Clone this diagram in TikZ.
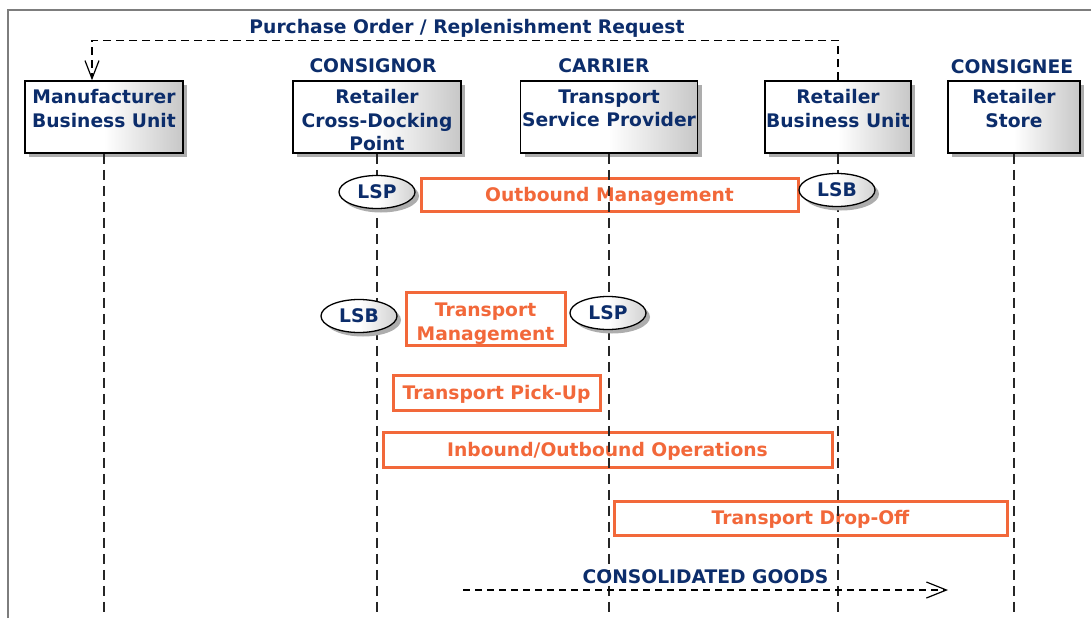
\documentclass[tikz,border=0pt]{standalone}
\usepackage{fontspec}
\setmainfont{DejaVu Sans}
\usetikzlibrary{shapes.geometric,shadows,arrows.meta}
\definecolor{navy}{RGB}{12,45,107}
\definecolor{orng}{RGB}{242,104,58}
\definecolor{framegray}{RGB}{125,125,125}
\begin{document}
\begin{tikzpicture}[x=1pt,y=-1pt,
  lblfont/.style={font=\fontsize{18.7}{23.5}\selectfont\bfseries},
  lbl/.style={lblfont, text=navy, inner sep=0pt},
  shad/.style={drop shadow={shadow xshift=4pt,shadow yshift=-4pt,fill=black!32,opacity=1}},
  actor/.style={shad, draw=black, line width=1.5pt, rectangle, minimum height=72pt, inner sep=0pt,
    left color=white, right color=black!22, middle color=white},
  boxtxt/.style={lbl, anchor=north, align=center, execute at begin node={\rule{0pt}{14.5pt}}},
  task/.style={draw=orng, line width=3pt, rectangle, inner sep=0pt, text=orng, lblfont,
    text height=13.6pt, text depth=0pt},
  tasktxt/.style={lblfont, text=orng, inner sep=0pt, anchor=north, align=center,
    execute at begin node={\rule{0pt}{13.6pt}}},
  ell/.style={shad, ellipse, draw=black, line width=1.3pt, minimum width=76pt, minimum height=33pt,
    inner sep=0pt, left color=white, right color=black!18, middle color=white,
    lblfont, text=navy, text height=13.6pt, text depth=0pt},
  lifeline/.style={draw=black!85, line width=1.5pt, dash pattern=on 10pt off 6pt},
  reqline/.style={draw=black, line width=1.2pt, dash pattern=on 8pt off 5pt,
    -{Straight Barb[length=18pt,width=14pt,line width=1.2pt]}},
  goods/.style={draw=black, line width=1.2pt, dash pattern=on 7pt off 5pt,
    -{Straight Barb[length=20pt,width=16pt,line width=1.2pt]}}
]
\useasboundingbox (0,0) rectangle (1091,618);
\fill[white] (0,0) rectangle (1091,618);
% frame
\draw[framegray, line width=1.5pt] (8,618) -- (8,10) -- (1091,10);

% title and role labels
\node[lbl, anchor=base] (title) at (467,34) {Purchase Order / Replenishment Request};
\node[lbl, anchor=base] (consignor) at (373,72) {CONSIGNOR};
\node[lbl, anchor=base] (carrier) at (604,72) {CARRIER};
\node[lbl, anchor=base] (consignee) at (1012,74) {CONSIGNEE};

% actor boxes
\node[actor, minimum width=158pt] (mbu) at (104,117) {};
\node[actor, minimum width=168pt] (rcd) at (377,117) {};
\node[actor, minimum width=177pt] (tsp) at (609,117) {};
\node[actor, minimum width=146pt] (rbu) at (838,117) {};
\node[actor, minimum width=132pt] (rs) at (1014,117) {};

\node[boxtxt] (mbut) at ([yshift=-9pt]mbu.north) {Manufacturer\\Business Unit};
\node[boxtxt] (rcdt) at ([yshift=-9pt]rcd.north) {Retailer\\Cross-Docking\\Point};
\node[boxtxt] (tspt) at ([yshift=-9pt]tsp.north) {Transport\\Service Provider};
\node[boxtxt] (rbut) at ([yshift=-9pt]rbu.north) {Retailer\\Business Unit};
\node[boxtxt] (rst) at ([yshift=-9pt]rs.north) {Retailer\\Store};

% request arrow
\draw[reqline] (rbu.north) -- ++(0,-40) -| ([xshift=-12pt]mbu.north);

% orange activity boxes
\node[task, minimum width=377pt, minimum height=33pt] (ob) at (609.5,195) {Outbound Management};
\node[task, minimum width=159pt, minimum height=53pt] (tm) at (485.5,318.5) {};
\node[tasktxt] (tmt) at ([yshift=-12.4pt]tm.north) {Transport\\Management};
\node[task, minimum width=207pt, minimum height=35pt] (tp) at (496.5,392.5) {Transport Pick-Up};
\node[task, minimum width=449pt, minimum height=35pt] (io) at (607.5,449.5) {Inbound/Outbound Operations};
\node[task, minimum width=393pt, minimum height=34pt] (td) at (810.5,518) {Transport Drop-Off};

% lifelines
\coordinate (bottom) at (0,617);
\foreach \n in {mbu,rcd,tsp,rbu,rs}
  \draw[lifeline] (\n.south) -- (\n.south |- bottom);

% role ellipses
\node[ell] (lsp1) at (377,192) {LSP};
\node[ell] (lsb1) at (837,190) {LSB};
\node[ell] (lsb2) at (359,316) {LSB};
\node[ell] (lsp2) at (608,313) {LSP};

% consolidated goods
\coordinate (cgstart) at (463,590);
\coordinate (cgend) at (948,590);
\draw[goods] (cgstart) -- (cgend);
\node[lbl, anchor=base] (cg) at (705.5,583) {CONSOLIDATED GOODS};
\end{tikzpicture}
\end{document}
